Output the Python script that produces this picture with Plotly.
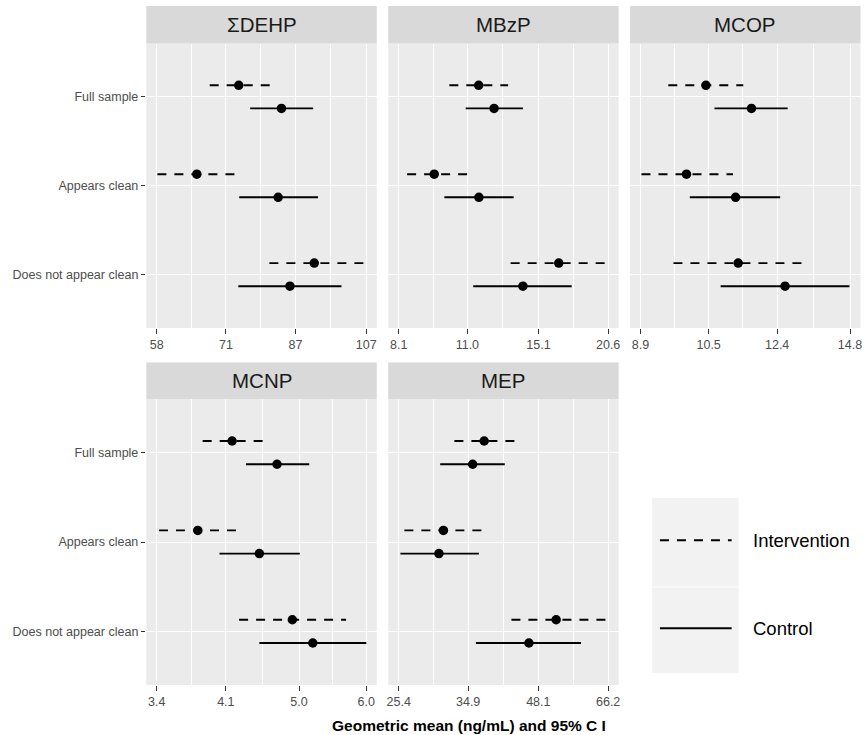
import math
import plotly.graph_objects as go

W, H = 866, 735

CATEGORIES = ["Full sample", "Appears clean", "Does not appear clean"]
GROUPS = ["Intervention", "Control"]
ANALYTES = ["ΣDEHP", "MBzP", "MCOP", "MCNP", "MEP"]

# ---- data (geometric mean, 95% CI lower, upper) per category ----
DEHP_INT_GM = [73.7, 65.2, 91.9]
DEHP_INT_LO = [67.7, 58.1, 80.6]
DEHP_INT_HI = [81.1, 73.2, 107.0]
DEHP_CTL_GM = [83.5, 82.7, 85.6]
DEHP_CTL_LO = [76.2, 73.8, 73.6]
DEHP_CTL_HI = [91.6, 92.9, 99.5]

MBZP_INT_GM = [11.57, 9.49, 16.53]
MBZP_INT_LO = [10.15, 8.41, 13.34]
MBZP_INT_HI = [13.19, 11.09, 20.6]
MBZP_CTL_GM = [12.39, 11.58, 14.09]
MBZP_CTL_LO = [10.92, 9.93, 11.29]
MBZP_CTL_HI = [14.09, 13.52, 17.51]

MCOP_INT_GM = [10.43, 9.95, 11.28]
MCOP_INT_LO = [9.52, 8.92, 9.64]
MCOP_INT_HI = [11.42, 11.14, 13.19]
MCOP_CTL_GM = [11.65, 11.21, 12.64]
MCOP_CTL_LO = [10.65, 10.03, 10.81]
MCOP_CTL_HI = [12.72, 12.49, 14.78]

MCNP_INT_GM = [4.17, 3.80, 4.91]
MCNP_INT_LO = [3.85, 3.42, 4.25]
MCNP_INT_HI = [4.55, 4.24, 5.68]
MCNP_CTL_GM = [4.71, 4.49, 5.19]
MCNP_CTL_LO = [4.33, 4.03, 4.49]
MCNP_CTL_HI = [5.14, 5.01, 6.0]

MEP_INT_GM = [37.55, 31.17, 52.19]
MEP_INT_LO = [32.77, 26.07, 42.53]
MEP_INT_HI = [43.38, 37.50, 66.2]
MEP_CTL_GM = [35.63, 30.53, 46.08]
MEP_CTL_LO = [30.71, 25.6, 36.16]
MEP_CTL_HI = [41.26, 36.66, 58.47]

# ---- tick values / labels ----
DEHP_TICKS = [58, 71, 87, 107]
DEHP_TICKTEXT = ["58", "71", "87", "107"]
MBZP_TICKS = [8.1, 11.0, 15.1, 20.6]
MBZP_TICKTEXT = ["8.1", "11.0", "15.1", "20.6"]
MCOP_TICKS = [8.9, 10.5, 12.4, 14.8]
MCOP_TICKTEXT = ["8.9", "10.5", "12.4", "14.8"]
MCNP_TICKS = [3.4, 4.1, 5.0, 6.0]
MCNP_TICKTEXT = ["3.4", "4.1", "5.0", "6.0"]
MEP_TICKS = [25.4, 34.9, 48.1, 66.2]
MEP_TICKTEXT = ["25.4", "34.9", "48.1", "66.2"]

X_TITLE = "Geometric mean (ng/mL) and 95% C I"

PANEL_DATA = [
    (DEHP_INT_GM, DEHP_INT_LO, DEHP_INT_HI, DEHP_CTL_GM, DEHP_CTL_LO, DEHP_CTL_HI, DEHP_TICKS, DEHP_TICKTEXT),
    (MBZP_INT_GM, MBZP_INT_LO, MBZP_INT_HI, MBZP_CTL_GM, MBZP_CTL_LO, MBZP_CTL_HI, MBZP_TICKS, MBZP_TICKTEXT),
    (MCOP_INT_GM, MCOP_INT_LO, MCOP_INT_HI, MCOP_CTL_GM, MCOP_CTL_LO, MCOP_CTL_HI, MCOP_TICKS, MCOP_TICKTEXT),
    (MCNP_INT_GM, MCNP_INT_LO, MCNP_INT_HI, MCNP_CTL_GM, MCNP_CTL_LO, MCNP_CTL_HI, MCNP_TICKS, MCNP_TICKTEXT),
    (MEP_INT_GM, MEP_INT_LO, MEP_INT_HI, MEP_CTL_GM, MEP_CTL_LO, MEP_CTL_HI, MEP_TICKS, MEP_TICKTEXT),
]

# ---- layout geometry (pixels) ----
COLS = [(145.0, 376.5), (388.0, 619.5), (631.0, 862.5)]
ROWS = [  # (strip top, strip bottom/panel top, panel bottom)
    (6.0, 43.5, 328.0),
    (362.5, 399.0, 685.0),
]
DODGE = 0.13
FONT = "Liberation Sans, Arial, sans-serif"


def fx(px):
    return px / W


def fy(py):
    return 1 - py / H


fig = go.Figure()
layout = dict(
    width=W, height=H,
    margin=dict(l=0, r=0, t=0, b=0, pad=0),
    paper_bgcolor="white",
    plot_bgcolor="#ebebeb",
    showlegend=False,
    font=dict(family=FONT, color="#4d4d4d", size=12.5),
)
shapes = []
annotations = []

cat_idx = [1, 2, 3]

for i, (name, data) in enumerate(zip(ANALYTES, PANEL_DATA)):
    igm, ilo, ihi, cgm, clo, chi, ticks, ticktext = data
    r, c = divmod(i, 3)
    x0, x1 = COLS[c]
    s0, p0, p1 = ROWS[r]
    ax = "" if i == 0 else str(i + 1)
    xref, yref = "x" + ax, "y" + ax

    y_int = [k - DODGE for k in cat_idx]
    y_ctl = [k + DODGE for k in cat_idx]

    # dashed CI lines (intervention)
    xs, ys = [], []
    for lo, hi, yy in zip(ilo, ihi, y_int):
        xs += [lo, hi, None]
        ys += [yy, yy, None]
    fig.add_trace(go.Scatter(x=xs, y=ys, mode="lines", xaxis=xref, yaxis=yref,
                             line=dict(color="black", width=1.9, dash="9px,8px"),
                             hoverinfo="skip", name="Intervention"))
    xs, ys = [], []
    for lo, hi, yy in zip(clo, chi, y_ctl):
        xs += [lo, hi, None]
        ys += [yy, yy, None]
    fig.add_trace(go.Scatter(x=xs, y=ys, mode="lines", xaxis=xref, yaxis=yref,
                             line=dict(color="black", width=1.9),
                             hoverinfo="skip", name="Control"))
    fig.add_trace(go.Scatter(x=igm + cgm, y=y_int + y_ctl, mode="markers",
                             xaxis=xref, yaxis=yref,
                             marker=dict(color="black", size=9.5, line=dict(width=0)),
                             name=name))

    lt0, lt1 = math.log10(ticks[0]), math.log10(ticks[-1])
    d = lt1 - lt0
    minor = [math.sqrt(a * b) for a, b in zip(ticks[:-1], ticks[1:])]
    layout["xaxis" + ax] = dict(
        type="log", domain=[fx(x0), fx(x1)], anchor=yref,
        range=[lt0 - 0.05 * d, lt1 + 0.05 * d],
        tickmode="array", tickvals=ticks, ticktext=ticktext,
        ticks="outside", ticklen=4.5, tickwidth=1.1, tickcolor="#333333",
        tickfont=dict(size=12.5, color="#4d4d4d", family=FONT),
        showgrid=True, gridcolor="white", gridwidth=1.3,
        minor=dict(tickmode="array", tickvals=minor, showgrid=True,
                   gridcolor="white", gridwidth=0.65, ticks=""),
        zeroline=False, showline=False, fixedrange=True,
    )
    layout["yaxis" + ax] = dict(
        domain=[fy(p1), fy(p0)], anchor=xref,
        range=[3.6, 0.4],
        tickmode="array", tickvals=cat_idx,
        ticktext=CATEGORIES if c == 0 else ["", "", ""],
        showticklabels=(c == 0),
        ticks="outside" if c == 0 else "", ticklen=4.5, tickwidth=1.1, tickcolor="#333333",
        tickfont=dict(size=12.5, color="#4d4d4d", family=FONT),
        showgrid=True, gridcolor="white", gridwidth=1.3,
        zeroline=False, showline=False, fixedrange=True,
    )

    # strip
    shapes.append(dict(type="rect", xref="paper", yref="paper",
                       x0=fx(x0), x1=fx(x1), y0=fy(p0), y1=fy(s0),
                       fillcolor="#d9d9d9", line=dict(width=0), layer="below"))
    annotations.append(dict(text=name, xref="paper", yref="paper",
                            x=fx((x0 + x1) / 2), y=fy((s0 + p0) / 2),
                            showarrow=False, xanchor="center", yanchor="middle",
                            font=dict(size=20.5, color="#1a1a1a", family=FONT)))

# x axis title
annotations.append(dict(text="<b>" + X_TITLE + "</b>", xref="paper", yref="paper",
                        x=fx(469), y=fy(725), showarrow=False,
                        xanchor="center", yanchor="middle",
                        font=dict(size=15.5, color="black", family=FONT)))

# legend (drawn manually to match key sizes)
LEG_X0, LEG_X1 = 653, 740
LEG_KEYS = [(498, 586.5), (587.5, 673)]
for (k0, k1), grp, dash in zip(LEG_KEYS, GROUPS, ["9px,8px", "solid"]):
    shapes.append(dict(type="rect", xref="paper", yref="paper",
                       x0=fx(LEG_X0), x1=fx(LEG_X1), y0=fy(k1), y1=fy(k0),
                       fillcolor="#f2f2f2", line=dict(width=0), layer="below"))
    ym = (k0 + k1) / 2 - 2
    shapes.append(dict(type="line", xref="paper", yref="paper",
                       x0=fx(661), x1=fx(733), y0=fy(ym), y1=fy(ym),
                       line=dict(color="black", width=1.9, dash=dash)))
    annotations.append(dict(text=grp, xref="paper", yref="paper",
                            x=fx(752), y=fy(ym), showarrow=False,
                            xanchor="left", yanchor="middle",
                            font=dict(size=18.5, color="black", family=FONT)))

layout["shapes"] = shapes
layout["annotations"] = annotations
fig.update_layout(**layout)

fig.write_html(
    "out.html",
    config={"displayModeBar": False},
    post_script="document.body.style.margin='0';document.body.style.overflow='hidden';",
)
